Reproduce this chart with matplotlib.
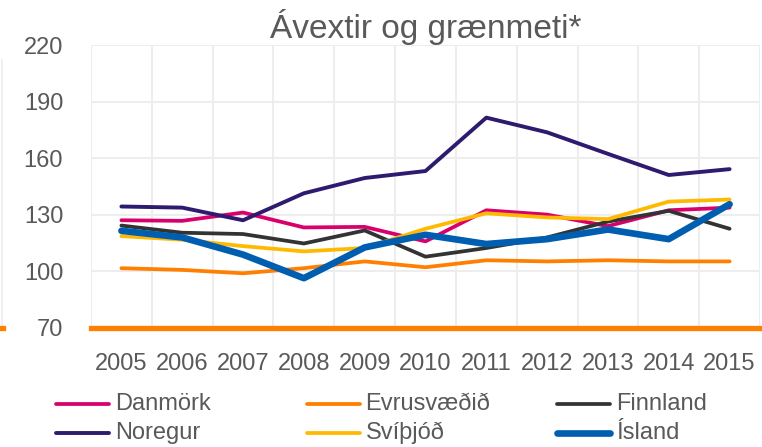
import matplotlib
matplotlib.use('Agg')
import matplotlib.pyplot as plt
from matplotlib.lines import Line2D

years = [2005, 2006, 2007, 2008, 2009, 2010, 2011, 2012, 2013, 2014, 2015]

danmork = [127.1, 126.8, 131.2, 123.3, 123.6, 115.9, 132.4, 130.1, 124.0, 132.4, 133.8]
evrusvaedid = [101.7, 100.8, 99.0, 101.7, 105.3, 102.2, 105.9, 105.3, 105.9, 105.3, 105.3]
finnland = [124.3, 120.5, 119.8, 114.8, 121.7, 107.8, 112.4, 118.0, 126.4, 132.1, 122.6]
noregur = [134.4, 133.8, 127.1, 141.4, 149.5, 153.2, 181.5, 173.7, 162.3, 151.1, 154.2]
svithjod = [118.7, 116.8, 113.4, 110.6, 112.4, 122.6, 130.8, 128.6, 127.7, 137.0, 138.1]
island = [121.5, 118.0, 108.9, 96.4, 112.7, 119.4, 114.5, 117.1, 122.2, 117.1, 135.6]

yticks = [70, 100, 130, 160, 190, 220]

plt.rcParams['font.family'] = ['Liberation Sans', 'DejaVu Sans']
grey = '#595959'

fig = plt.figure(figsize=(7.62, 4.47), dpi=100)
ax = fig.add_axes([91 / 762, 1 - 328 / 447, 669 / 762, 283 / 447])

x = list(range(len(years)))
series = [
    ('Danmörk', danmork, '#D9006C', 2.7),
    ('Evrusvæðið', evrusvaedid, '#FF7F00', 2.7),
    ('Finnland', finnland, '#333333', 2.7),
    ('Noregur', noregur, '#2E1A6E', 2.8),
    ('Svíþjóð', svithjod, '#FFB900', 2.7),
    ('Ísland', island, '#005EB0', 4.8),
]
for name, vals, col, lw in series:
    ax.plot(x, vals, color=col, lw=lw, solid_capstyle='round', label=name)

ax.set_xlim(-0.5, len(years) - 0.5)
ax.set_ylim(70, 220)
ax.set_yticks(yticks)
ax.set_xticks(x)
ax.set_xticklabels([str(y) for y in years])
ax.set_xticks([i - 0.5 for i in range(len(years) + 1)], minor=True)
ax.grid(True, which='major', axis='y', color='#EDEDED', lw=1.5)
ax.grid(True, which='minor', axis='x', color='#EDEDED', lw=1.5)
ax.set_axisbelow(True)
ax.tick_params(which='both', length=0)
ax.tick_params(axis='y', pad=20, labelsize=17, labelcolor=grey)
ax.tick_params(axis='x', pad=18, labelsize=17, labelcolor=grey)
for s in ['top', 'right', 'left']:
    ax.spines[s].set_visible(False)
ax.spines['bottom'].set_color('#FF7F00')
ax.spines['bottom'].set_linewidth(3.8)
ax.spines['bottom'].set_zorder(5)

ax.set_title('Ávextir og grænmeti*', fontsize=24, color=grey, pad=5)

# legend laid out row by row, as in the original
for i, (name, _, col, lw) in enumerate(series):
    row, c = divmod(i, 3)
    x0 = (56 + c * 250.5) / 762
    y0 = 1 - (404 + row * 29) / 447
    fig.add_artist(Line2D([x0, x0 + 53 / 762], [y0, y0], color=col, lw=lw,
                          solid_capstyle='round'))
    fig.text(x0 + 59 / 762, y0, name, fontsize=17, color=grey, va='center', ha='left')

# fragments of the neighbouring chart at the left edge
fig.add_artist(Line2D([2 / 762, 2 / 762], [1 - 330 / 447, 1 - 60 / 447], color='#EDEDED', lw=1.2))
fig.add_artist(Line2D([0, 3 / 762], [1 - 328 / 447, 1 - 328 / 447], color='#FF7F00', lw=3.8))

fig.savefig('out.png', dpi=100)
